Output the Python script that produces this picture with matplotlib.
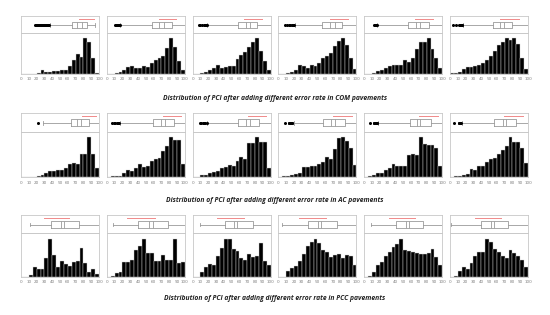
import matplotlib
matplotlib.use('Agg')
import matplotlib.pyplot as plt

# ---------------- data ----------------
bin_edges = list(range(0, 105, 5))
x_ticks = list(range(0, 110, 10))
row_titles = [
    "Distribution of PCI after adding different error rate in COM pavements",
    "Distribution of PCI after adding different error rate in AC pavements",
    "Distribution of PCI after adding different error rate in PCC pavements",
]

# histogram counts (relative) per 5-unit bin, 6 panels per row
com_hist = [
    [0, 0, 0, 1, 4, 12, 6, 6, 8, 9, 10, 12, 22, 40, 55, 48, 100, 88, 45, 3],
    [0, 0, 3, 5, 10, 20, 22, 18, 16, 22, 20, 30, 38, 45, 50, 72, 100, 75, 37, 10],
    [0, 0, 2, 5, 10, 17, 24, 18, 20, 23, 22, 43, 52, 62, 75, 88, 100, 65, 35, 12],
    [0, 0, 2, 6, 10, 25, 22, 18, 25, 22, 30, 45, 50, 60, 78, 92, 100, 80, 45, 15],
    [0, 0, 3, 7, 12, 18, 22, 25, 25, 25, 40, 33, 45, 70, 88, 88, 100, 70, 45, 17],
    [2, 2, 5, 15, 20, 20, 22, 25, 30, 38, 50, 65, 80, 90, 100, 95, 100, 85, 45, 15],
]
ac_hist = [
    [0, 0, 0, 0, 2, 6, 10, 16, 16, 17, 17, 22, 32, 35, 32, 58, 58, 100, 58, 22],
    [0, 2, 4, 3, 10, 17, 15, 22, 32, 25, 28, 40, 45, 48, 65, 78, 100, 92, 92, 33],
    [0, 0, 5, 5, 10, 12, 15, 22, 25, 30, 27, 40, 50, 45, 85, 85, 100, 88, 88, 22],
    [0, 2, 4, 5, 8, 10, 25, 25, 27, 28, 32, 38, 50, 45, 70, 98, 100, 90, 72, 30],
    [0, 2, 5, 10, 10, 18, 22, 32, 27, 27, 28, 55, 58, 55, 100, 83, 80, 80, 72, 28],
    [0, 2, 3, 5, 8, 20, 18, 27, 27, 38, 45, 48, 58, 68, 78, 100, 88, 88, 72, 35],
]
pcc_hist = [
    [0, 0, 5, 25, 20, 20, 50, 100, 58, 25, 40, 33, 28, 38, 42, 75, 35, 12, 20, 7],
    [0, 2, 10, 13, 38, 38, 45, 70, 80, 100, 62, 62, 42, 40, 58, 45, 45, 98, 35, 38],
    [0, 0, 12, 25, 33, 30, 55, 75, 100, 98, 72, 68, 50, 45, 60, 52, 55, 87, 40, 30],
    [0, 0, 15, 22, 27, 40, 60, 80, 92, 100, 88, 70, 65, 52, 58, 60, 50, 58, 55, 30],
    [0, 3, 12, 30, 38, 55, 65, 78, 85, 100, 70, 68, 65, 62, 60, 60, 62, 72, 52, 30],
    [0, 3, 15, 25, 20, 35, 55, 65, 65, 100, 92, 73, 65, 55, 50, 70, 62, 55, 45, 25],
]

# box statistics: (whisker low, Q1, mean, median, Q3, whisker high)
com_box = [
    (37, 65.5, 72, 78, 84.7, 95),
    (17.5, 57.7, 67, 73, 83, 100),
    (19, 57.6, 68.6, 73.7, 83, 100),
    (21, 56, 66.7, 72, 81.6, 100),
    (17, 56.6, 67, 71.5, 83, 100),
    (17, 55.3, 64.7, 69, 80, 100),
]
ac_box = [
    (28, 63.5, 72, 77, 87, 100),
    (17.4, 58.7, 70, 75, 86, 100),
    (19, 58.6, 69, 74, 85, 100),
    (19.6, 57.4, 67.4, 72.6, 84.8, 100),
    (18, 58.4, 68, 72, 85, 100),
    (16, 57, 67.5, 72.4, 84.6, 100),
]
pcc_box = [
    (11.7, 38.7, 51, 55, 74.8, 100),
    (7.8, 40.4, 54, 58.7, 78.3, 100),
    (9.6, 41.3, 53.5, 57.4, 77.4, 100),
    (4.3, 37.8, 51, 55, 74.8, 100),
    (8.7, 40.4, 53.5, 57.8, 76, 100),
    (1.8, 39.6, 52.4, 56.8, 74.9, 100),
]

# shortest half (red bracket)
com_short = [(74.5, 93.6), (67, 88.5), (66.5, 88.5), (66.7, 89), (65, 88), (64, 88.5)]
ac_short = [(77.7, 96.5), (72.6, 95.6), (71, 93.5), (70.4, 94.3), (70, 95), (69, 93)]
pcc_short = [(29, 61), (26, 62), (31, 66), (26, 61), (31.7, 65), (31.7, 66)]

# outliers
com_out = [
    [18, 19, 20, 21, 22, 23, 24, 25, 26, 27, 28, 29, 30, 31, 32, 33, 34, 35, 36],
    [10, 12, 13, 14, 15, 16, 17],
    [8, 10, 12, 14, 16, 17, 18],
    [8.5, 11, 13, 15, 17, 18, 19, 20],
    [13, 14, 15, 16],
    [4, 8, 11, 13, 14, 15, 16],
]
ac_out = [
    [22],
    [7, 9, 11, 13, 14, 16],
    [9.5, 11, 13, 15, 16, 18],
    [8.7, 13, 14, 15, 16, 17, 18],
    [8, 12, 13, 14, 15, 16, 17],
    [5.7, 11, 12, 13, 14],
]
pcc_out = [[], [], [], [], [], []]

hists = [com_hist, ac_hist, pcc_hist]
boxes = [com_box, ac_box, pcc_box]
shorts = [com_short, ac_short, pcc_short]
outs = [com_out, ac_out, pcc_out]

# ---------------- layout (pixels) ----------------
W, H = 550, 315
fig = plt.figure(figsize=(W / 100, H / 100), dpi=100)
fig.patch.set_facecolor('white')

rows_px = [(16, 33.3, 74), (113.3, 131.7, 177.3), (215, 233.3, 276.7)]
title_y = [98, 201, 299]
col_left = [21 + 85.8 * i for i in range(6)]
col_w = 78

frame_col = '#c8c8c8'
box_col = '#9a9a9a'
red_col = '#f08a8a'
tick_col = '#7f7f7f'

centers = [(bin_edges[i] + bin_edges[i + 1]) / 2 for i in range(len(bin_edges) - 1)]

for r in range(3):
    top, mid, bot = rows_px[r]
    for c in range(6):
        left = col_left[c] / W
        wid = col_w / W
        # histogram axes
        axh = fig.add_axes([left, 1 - bot / H, wid, (bot - mid) / H])
        vals = hists[r][c]
        axh.bar(centers, vals, width=5, color='black', edgecolor='#d0d0d0', linewidth=0.3)
        axh.set_xlim(0, 100)
        axh.set_ylim(0, max(vals) / 0.88)
        axh.set_yticks([])
        axh.set_xticks(x_ticks)
        axh.set_xticklabels([str(t) for t in x_ticks], fontsize=3.0, color=tick_col)
        axh.tick_params(axis='x', length=0, pad=2.5)
        for s in axh.spines.values():
            s.set_color(frame_col)
            s.set_linewidth(0.6)

        # box axes
        axb = fig.add_axes([left, 1 - mid / H, wid, (mid - top) / H])
        wl, q1, mean, med, q3, wh = boxes[r][c]
        stats = [dict(whislo=wl, q1=q1, med=med, q3=q3, whishi=wh, mean=mean, fliers=[])]
        axb.bxp(stats, positions=[0.48], widths=0.38, vert=False,
                showmeans=True, meanline=True, showcaps=True,
                boxprops=dict(color=box_col, linewidth=0.6),
                whiskerprops=dict(color=box_col, linewidth=0.6),
                capprops=dict(color=box_col, linewidth=0.6),
                medianprops=dict(color=box_col, linewidth=0.6),
                meanprops=dict(color=box_col, linewidth=0.6, linestyle='-'),
                manage_ticks=False)
        o = outs[r][c]
        if o:
            axb.plot(o, [0.48] * len(o), 'o', color='black', markersize=2.2,
                     markeredgewidth=0)
        s0, s1 = shorts[r][c]
        axb.plot([s0, s1], [0.85, 0.85], color=red_col, linewidth=0.7)
        axb.set_xlim(0, 100)
        axb.set_ylim(0, 1)
        axb.set_xticks([])
        axb.set_yticks([])
        for s in axb.spines.values():
            s.set_color(frame_col)
            s.set_linewidth(0.6)

    fig.text(0.5, 1 - title_y[r] / H, row_titles[r], ha='center', va='center',
             fontsize=4.9, fontweight='bold', fontstyle='italic',
             family='Open Sans', color='#222222')

fig.savefig('out.png', dpi=100, facecolor='white')
